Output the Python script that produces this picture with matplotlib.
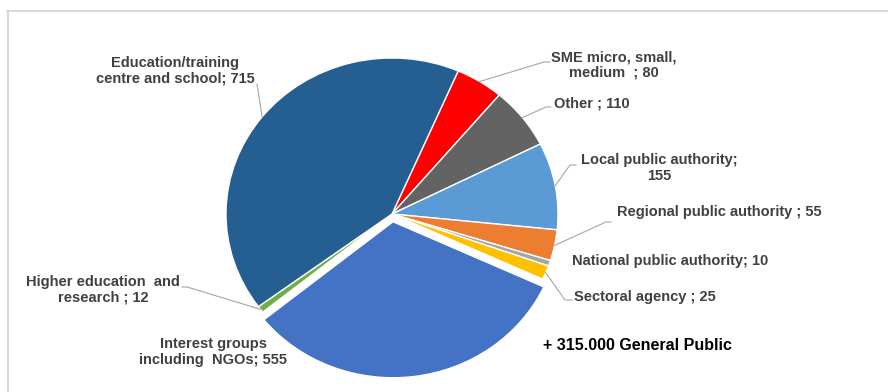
import matplotlib.pyplot as plt
import matplotlib.transforms as mtransforms
from matplotlib.lines import Line2D
import numpy as np

# stakeholder groups, clockwise from the top
groups = ["SME", "Other", "Local", "Regional", "National", "Sectoral",
          "Interest groups", "Higher education", "Education/training"]
counts = [80, 110, 155, 55, 10, 25, 555, 12, 715]
label_fmt = ["SME micro, small,\nmedium  ; {}",
             "Other ; {}",
             "Local public authority;\n{}",
             "Regional public authority ; {}",
             "National public authority; {}",
             "Sectoral agency ; {}",
             "Interest groups\nincluding  NGOs; {}",
             "Higher education  and\nresearch ; {}",
             "Education/training\ncentre and school; {}"]
colors = ["#FF0000", "#636363", "#5B9BD5", "#ED7D31", "#A5A5A5",
          "#FFC000", "#4472C4", "#70AD47", "#255E91"]
explode = [0, 0, 0, 0, 0, 0, 0.05, 0, 0]
note = "+ 315.000 General Public"

W, H = 888, 392
fig = plt.figure(figsize=(W / 100, H / 100), dpi=100)
# pixel coordinates, origin at top-left
px = mtransforms.Affine2D().scale(1 / W, -1 / H).translate(0, 1) + fig.transFigure

# pie centre and radii in pixels
cx, cy, rx, ry = 392, 214, 166, 156
lim = 1.3
ax = fig.add_axes([(cx - lim * rx) / W, (H - cy - lim * ry) / H,
                   2 * lim * rx / W, 2 * lim * ry / H])
wedges, _ = ax.pie(counts, colors=colors, explode=explode, startangle=66.5,
                   counterclock=False, radius=1,
                   wedgeprops=dict(edgecolor="white", linewidth=1))
ax.set_aspect("auto")
ax.set_xlim(-lim, lim)
ax.set_ylim(-lim, lim)
ax.axis("off")

font = dict(family="Liberation Sans", weight="bold", size=10.5, color="#404040")

# label centre, then leader line points near the text (None = no line)
label_pos = [(614, 65), (592, 104), (659, 168), (719, 212), (670, 261),
             (645, 297), (213, 352), (103, 290), (175, 71)]
leader = [[(544, 62), (550, 62)],
          [(546, 107), (551, 107)],
          [(570, 165), (576, 165)],
          [(606, 222), (611, 222)],
          None,
          [(565, 300), (572, 300)],
          None,
          [(187, 287), (182, 287)],
          [(257, 84)]]

to_px = px.inverted()
for w, n, fmt, pos, ld in zip(wedges, counts, label_fmt, label_pos, leader):
    ax.text(*pos, fmt.format(n), transform=px, ha="center", va="center",
            linespacing=1.15, **font)
    if ld is None:
        continue
    mid = np.deg2rad((w.theta1 + w.theta2) / 2)
    edge = (w.center[0] + w.r * np.cos(mid), w.center[1] + w.r * np.sin(mid))
    ex, ey = to_px.transform(ax.transData.transform(edge))
    xs = [ex] + [p[0] for p in ld]
    ys = [ey] + [p[1] for p in ld]
    fig.add_artist(Line2D(xs, ys, transform=px, color="#A6A6A6", lw=0.8))

fig.text(637, 346, note, transform=px, ha="center", va="center",
         family="Liberation Sans", weight="bold", size=11.5, color="black")

# chart area frame
fig.add_artist(Line2D([7, W], [11.5, 11.5], transform=px, color="#D9D9D9", lw=1.5))
fig.add_artist(Line2D([7.5, 7.5], [11, H], transform=px, color="#D9D9D9", lw=1.5))

fig.savefig("out.png", dpi=100)
